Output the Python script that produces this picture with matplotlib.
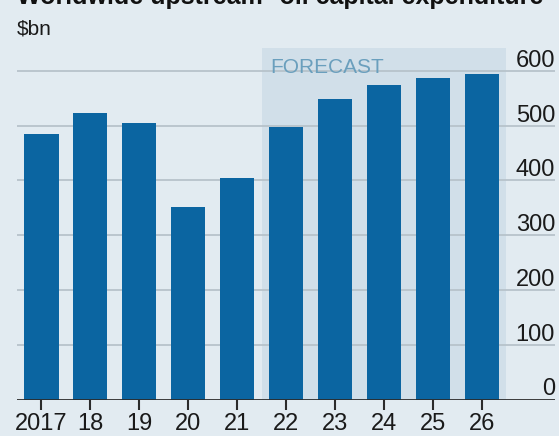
import matplotlib
matplotlib.use("Agg")
import matplotlib.pyplot as plt
import matplotlib.transforms as mtransforms

# ── Data ──────────────────────────────────────────────────────────────────────
years      = ["2017", "18", "19", "20", "21", "22", "23", "24", "25", "26"]
capex_bn   = [485, 524, 505, 352, 405, 498, 548, 575, 588, 595]
y_ticks    = [0, 100, 200, 300, 400, 500, 600]
forecast_from = 5   # index of first forecast year (2022)

# ── Style ─────────────────────────────────────────────────────────────────────
BG       = "#e2ebf1"
SHADE    = "#d1dfe9"
BAR      = "#0b65a1"
GRID     = "#b7c3cb"
FC_TEXT  = "#6a9fbd"

plt.rcParams["font.family"] = ["Liberation Sans Narrow", "Liberation Sans", "DejaVu Sans"]
FS = 17

W, H = 559, 436
fig = plt.figure(figsize=(W / 100, H / 100), dpi=100, facecolor=BG)
ax = fig.add_axes([17 / W, 1 - 399.5 / H, (555 - 17) / W, (399.5 - 48) / H])
ax.set_facecolor(BG)

x = list(range(len(years)))
ax.set_xlim(-0.5, len(years) + 0.5)
ax.set_ylim(0, 642)

# forecast shading
ax.axvspan(forecast_from - 0.5, len(years) - 0.5, color=SHADE, lw=0, zorder=0)

# gridlines
for t in y_ticks[1:]:
    ax.axhline(t, color=GRID, lw=1.3, zorder=1)

ax.bar(x, capex_bn, width=0.7, color=BAR, zorder=2)

# baseline
ax.axhline(0, color="#2b2b2b", lw=2, zorder=3)

# y labels above gridlines, right aligned
off = mtransforms.offset_copy(ax.get_yaxis_transform(), fig=fig, x=0, y=3, units="points")
for t in y_ticks:
    ax.text(1.0, t, str(t), transform=off, ha="right", va="baseline",
            fontsize=FS, color="#1a1a1a", zorder=4)

ax.text(forecast_from - 0.32, 597, "FORECAST", ha="left", va="baseline",
        fontsize=15, color=FC_TEXT, zorder=4)

ax.set_xticks(x)
ax.set_xticklabels(years, fontsize=FS, color="#1a1a1a")
ax.tick_params(axis="x", length=7, width=1.5, color="#2b2b2b", pad=3)
ax.set_yticks([])
for s in ax.spines.values():
    s.set_visible(False)

fig.text(17 / W, 1 - 4 / H, "Worldwide upstream* oil capital expenditure",
         ha="left", va="baseline", fontsize=FS + 1, fontweight="bold", color="#111111")
fig.text(17 / W, 1 - 35 / H, "$bn", ha="left", va="baseline", fontsize=FS - 2, color="#1a1a1a")

fig.savefig("out.png", dpi=100, facecolor=BG)
